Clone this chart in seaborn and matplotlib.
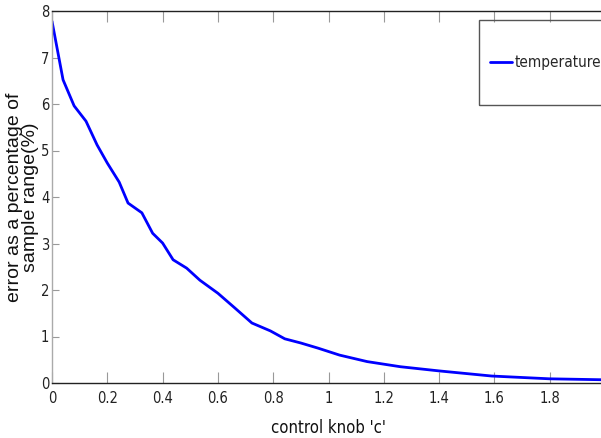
import matplotlib
matplotlib.use("Agg")
import matplotlib.pyplot as plt
from matplotlib import font_manager
from matplotlib.patches import Rectangle
import seaborn as sns
import pandas as pd

# ---- data ----
knob_c = [0, 0.04, 0.08, 0.123, 0.163, 0.2, 0.243, 0.275, 0.325, 0.364, 0.40,
          0.438, 0.487, 0.535, 0.6, 0.66, 0.723, 0.79, 0.842, 0.9, 0.962, 1.04,
          1.14, 1.26, 1.40, 1.59, 1.8, 1.99]
temperature_err = [7.78, 6.52, 5.96, 5.63, 5.12, 4.73, 4.32, 3.87, 3.66, 3.22,
                   3.01, 2.65, 2.47, 2.21, 1.93, 1.62, 1.29, 1.12, 0.95, 0.86,
                   0.75, 0.60, 0.46, 0.35, 0.26, 0.15, 0.09, 0.07]
series_name = "temperature"
x_ticks = [0, 0.2, 0.4, 0.6, 0.8, 1.0, 1.2, 1.4, 1.6, 1.8]
x_tick_labels = ["0", "0.2", "0.4", "0.6", "0.8", "1", "1.2", "1.4", "1.6", "1.8"]
y_ticks = [0, 1, 2, 3, 4, 5, 6, 7, 8]
x_label = "control knob 'c'"
y_label = "error as a percentage of\nsample range(%)"

sns.set_style("white")
plt.rcParams["font.family"] = ["Liberation Sans", "DejaVu Sans"]

# look for a condensed face for the narrow-looking texts
narrow_fp = None
for f in font_manager.fontManager.ttflist:
    nm = (f.name + " " + f.fname).lower()
    if ("narrow" in nm or "condensed" in nm) and "bold" not in nm and "oblique" not in nm and "italic" not in nm:
        narrow_fp = f.fname
        break


def fprops(size):
    if narrow_fp:
        return font_manager.FontProperties(fname=narrow_fp, size=size)
    return font_manager.FontProperties(family="Liberation Sans", size=size)


df = pd.DataFrame({"c": knob_c, "err": temperature_err, "series": series_name})

W, H = 601, 438
fig = plt.figure(figsize=(W / 100, H / 100), dpi=100)
ax = fig.add_axes([52 / W, (H - 383) / H, (605 - 52) / W, (383 - 11) / H])

sns.lineplot(data=df, x="c", y="err", hue="series", palette=["#0000ff"],
             linewidth=2.0, ax=ax, legend=False, sort=False)

ax.set_xlim(0, 2)
ax.set_ylim(0, 8)
ax.set_xticks(x_ticks)
ax.set_xticklabels(x_tick_labels)
ax.set_yticks(y_ticks)
tick_fp = fprops(10.5 if narrow_fp else 10)
for lab in ax.get_xticklabels() + ax.get_yticklabels():
    lab.set_fontproperties(tick_fp)
    lab.set_color("#222222")
ax.tick_params(axis="x", direction="in", length=8, width=0.8, color="#999999",
               top=True, bottom=True, pad=6)
ax.tick_params(axis="y", direction="in", length=5, width=0.8, color="#999999",
               left=True, pad=2)
for s in ["top", "bottom"]:
    ax.spines[s].set_color("#222222")
    ax.spines[s].set_linewidth(1.0)
ax.spines["left"].set_color("#aaaaaa")
ax.spines["left"].set_linewidth(1.0)
ax.spines["right"].set_visible(False)

ax.set_xlabel(x_label, fontproperties=fprops(12),
              color="#111111", labelpad=9)
ax.set_ylabel(y_label, fontsize=14, color="#111111", linespacing=0.92)
ax.yaxis.set_label_coords(-13 / 553, 0.5)

# legend
handle = plt.Line2D([], [], color="#0000ff", linewidth=2.0)
leg = fig.legend([handle], [series_name], loc="center left",
                 bbox_to_anchor=(482 / W, 1 - 63 / H), frameon=False,
                 handlelength=1.45, handletextpad=0.2, borderpad=0,
                 prop=fprops(11))
fig.patches.append(Rectangle((479 / W, 1 - 105 / H), 150 / W, 85 / H,
                             transform=fig.transFigure, fill=False,
                             edgecolor="#555555", linewidth=1.0))

fig.savefig("out.png", dpi=100, facecolor="white")
